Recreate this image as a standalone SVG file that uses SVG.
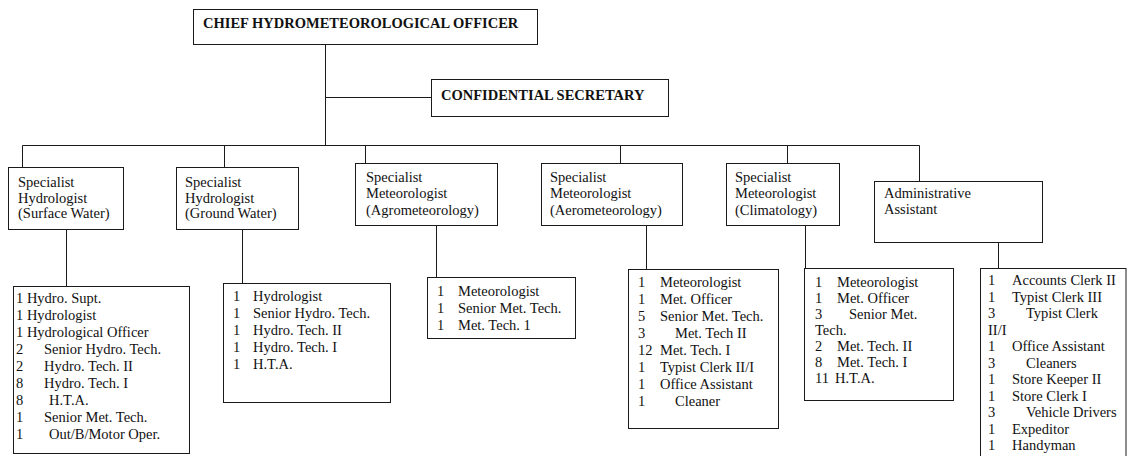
<svg xmlns="http://www.w3.org/2000/svg" width="1127" height="456" viewBox="0 0 1127 456">
  <style>
    .box { fill: #ffffff; stroke: #1a1a1a; stroke-width: 1; }
    .ln { fill: none; stroke: #1a1a1a; stroke-width: 1; }
    .t { font-family: "Liberation Serif", "Times New Roman", serif; font-size: 14.5px; fill: #111111; }
    .b { font-family: "Liberation Serif", "Times New Roman", serif; font-size: 14.5px; font-weight: bold; fill: #111111; }
  </style>
  <rect width="1127" height="456" fill="#ffffff"/>

  <!-- reporting lines -->
  <g id="connectors" class="ln">
    <path d="M325.5 44 V145.5"/>
    <path d="M325.5 97.5 H431"/>
    <path d="M22.5 145.5 H919.5"/>
    <path d="M22.5 145.5 V167"/>
    <path d="M224.5 145.5 V167"/>
    <path d="M365.5 145.5 V163"/>
    <path d="M620.5 145.5 V163"/>
    <path d="M787.5 145.5 V163"/>
    <path d="M919.5 145.5 V181"/>
    <path d="M66.5 229 V286"/>
    <path d="M242.5 229 V283"/>
    <path d="M436.5 225 V277"/>
    <path d="M646.5 225 V269"/>
    <path d="M805.5 225 V269"/>
    <path d="M998.5 242 V268"/>
  </g>

  <g id="chief">
    <rect class="box" x="193.5" y="9.5" width="344" height="35"/>
    <text class="b" x="203" y="28">CHIEF HYDROMETEOROLOGICAL OFFICER</text>
  </g>

  <g id="secretary">
    <rect class="box" x="431.5" y="79.5" width="237" height="37"/>
    <text class="b" x="441" y="100">CONFIDENTIAL SECRETARY</text>
  </g>

  <g id="hydro-surface">
    <rect class="box" x="8.5" y="167.5" width="115" height="62"/>
    <text class="t" x="18" y="187">Specialist</text>
    <text class="t" x="18" y="202.5">Hydrologist</text>
    <text class="t" x="18" y="218">(Surface Water)</text>
  </g>

  <g id="hydro-ground">
    <rect class="box" x="176.5" y="167.5" width="122" height="62"/>
    <text class="t" x="185" y="187">Specialist</text>
    <text class="t" x="185" y="202.5">Hydrologist</text>
    <text class="t" x="185" y="218">(Ground Water)</text>
  </g>

  <g id="met-agro">
    <rect class="box" x="355.5" y="163.5" width="142" height="62"/>
    <text class="t" x="366" y="182">Specialist</text>
    <text class="t" x="366" y="198">Meteorologist</text>
    <text class="t" x="366" y="214.5">(Agrometeorology)</text>
  </g>

  <g id="met-aero">
    <rect class="box" x="541.5" y="163.5" width="141" height="62"/>
    <text class="t" x="550" y="182">Specialist</text>
    <text class="t" x="550" y="198">Meteorologist</text>
    <text class="t" x="550" y="214.5">(Aerometeorology)</text>
  </g>

  <g id="met-clim">
    <rect class="box" x="726.5" y="163.5" width="113" height="62"/>
    <text class="t" x="735" y="182">Specialist</text>
    <text class="t" x="735" y="198">Meteorologist</text>
    <text class="t" x="735" y="214.5">(Climatology)</text>
  </g>

  <g id="admin">
    <rect class="box" x="874.5" y="181.5" width="168" height="61"/>
    <text class="t" x="884" y="197.5">Administrative</text>
    <text class="t" x="884" y="214">Assistant</text>
  </g>

  <g id="staff-surface">
    <rect class="box" x="13.5" y="286.5" width="176" height="167"/>
    <text class="t" x="16" y="303">1 Hydro. Supt.</text>
    <text class="t" x="16" y="320">1 Hydrologist</text>
    <text class="t" x="16" y="337">1 Hydrological Officer</text>
    <text class="t" x="16" y="354">2</text><text class="t" x="44" y="354">Senior Hydro. Tech.</text>
    <text class="t" x="16" y="371">2</text><text class="t" x="44" y="371">Hydro. Tech. II</text>
    <text class="t" x="16" y="388">8</text><text class="t" x="44" y="388">Hydro. Tech. I</text>
    <text class="t" x="16" y="405">8</text><text class="t" x="49" y="405">H.T.A.</text>
    <text class="t" x="16" y="422">1</text><text class="t" x="44" y="422">Senior Met. Tech.</text>
    <text class="t" x="16" y="439">1</text><text class="t" x="49" y="439">Out/B/Motor Oper.</text>
  </g>

  <g id="staff-ground">
    <rect class="box" x="223.5" y="283.5" width="167" height="119"/>
    <text class="t" x="233" y="301">1</text><text class="t" x="253" y="301">Hydrologist</text>
    <text class="t" x="233" y="318">1</text><text class="t" x="253" y="318">Senior Hydro. Tech.</text>
    <text class="t" x="233" y="335">1</text><text class="t" x="253" y="335">Hydro. Tech. II</text>
    <text class="t" x="233" y="352">1</text><text class="t" x="253" y="352">Hydro. Tech. I</text>
    <text class="t" x="233" y="369">1</text><text class="t" x="253" y="369">H.T.A.</text>
  </g>

  <g id="staff-agro">
    <rect class="box" x="427.5" y="277.5" width="148" height="61"/>
    <text class="t" x="437" y="296">1</text><text class="t" x="458" y="296">Meteorologist</text>
    <text class="t" x="437" y="313">1</text><text class="t" x="458" y="313">Senior Met. Tech.</text>
    <text class="t" x="437" y="330">1</text><text class="t" x="458" y="330">Met. Tech. 1</text>
  </g>

  <g id="staff-aero">
    <rect class="box" x="628.5" y="269.5" width="150" height="159"/>
    <text class="t" x="638" y="287">1</text><text class="t" x="660" y="287">Meteorologist</text>
    <text class="t" x="638" y="304">1</text><text class="t" x="660" y="304">Met. Officer</text>
    <text class="t" x="638" y="321">5</text><text class="t" x="660" y="321">Senior Met. Tech.</text>
    <text class="t" x="638" y="338">3</text><text class="t" x="675" y="338">Met. Tech II</text>
    <text class="t" x="638" y="355">12</text><text class="t" x="660" y="355">Met. Tech. I</text>
    <text class="t" x="638" y="372">1</text><text class="t" x="660" y="372">Typist Clerk II/I</text>
    <text class="t" x="638" y="389">1</text><text class="t" x="660" y="389">Office Assistant</text>
    <text class="t" x="638" y="406">1</text><text class="t" x="675" y="406">Cleaner</text>
  </g>

  <g id="staff-clim">
    <rect class="box" x="804.5" y="268.5" width="149" height="132"/>
    <text class="t" x="815" y="287">1</text><text class="t" x="837" y="287">Meteorologist</text>
    <text class="t" x="815" y="303">1</text><text class="t" x="837" y="303">Met. Officer</text>
    <text class="t" x="815" y="319">3</text><text class="t" x="849" y="319">Senior Met.</text>
    <text class="t" x="815" y="335">Tech.</text>
    <text class="t" x="815" y="351">2</text><text class="t" x="837" y="351">Met. Tech. II</text>
    <text class="t" x="815" y="367">8</text><text class="t" x="837" y="367">Met. Tech. I</text>
    <text class="t" x="815" y="383">11</text><text class="t" x="835" y="383">H.T.A.</text>
  </g>

  <g id="staff-admin">
    <rect class="box" x="980.5" y="268.5" width="145.5" height="200"/>
    <text class="t" x="988" y="285">1</text><text class="t" x="1012" y="285">Accounts Clerk II</text>
    <text class="t" x="988" y="301.5">1</text><text class="t" x="1012" y="301.5">Typist Clerk III</text>
    <text class="t" x="988" y="318">3</text><text class="t" x="1026" y="318">Typist Clerk</text>
    <text class="t" x="988" y="334.5">II/I</text>
    <text class="t" x="988" y="351">1</text><text class="t" x="1012" y="351">Office Assistant</text>
    <text class="t" x="988" y="367.5">3</text><text class="t" x="1026" y="367.5">Cleaners</text>
    <text class="t" x="988" y="384">1</text><text class="t" x="1012" y="384">Store Keeper II</text>
    <text class="t" x="988" y="400.5">1</text><text class="t" x="1012" y="400.5">Store Clerk I</text>
    <text class="t" x="988" y="417">3</text><text class="t" x="1026" y="417">Vehicle Drivers</text>
    <text class="t" x="988" y="433.5">1</text><text class="t" x="1012" y="433.5">Expeditor</text>
    <text class="t" x="988" y="450">1</text><text class="t" x="1012" y="450">Handyman</text>
  </g>
</svg>
